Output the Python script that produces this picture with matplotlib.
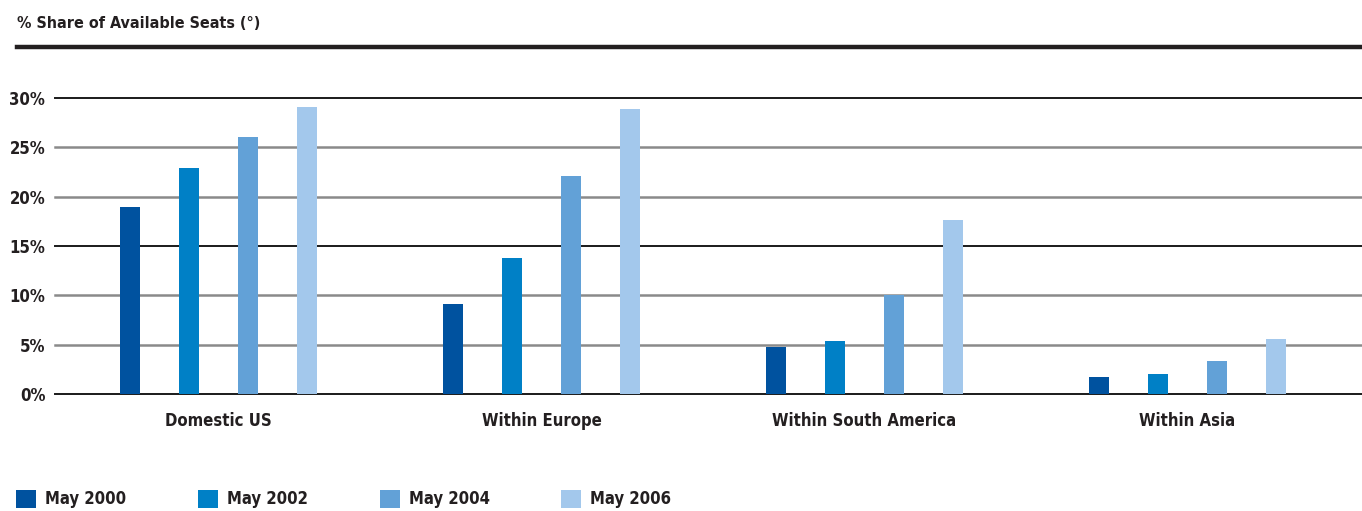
import matplotlib
matplotlib.use('Agg')
import matplotlib.pyplot as plt
from matplotlib.patches import Rectangle
from matplotlib.lines import Line2D

plt.rcParams['font.family'] = ['DejaVu Sans']
plt.rcParams['font.stretch'] = 'condensed'
plt.rcParams['font.weight'] = 'bold'

# data
categories = ['Domestic US', 'Within Europe', 'Within South America', 'Within Asia']
series_labels = ['May 2000', 'May 2002', 'May 2004', 'May 2006']
may2000 = [19.0, 9.1, 4.8, 1.7]
may2002 = [22.9, 13.8, 5.4, 2.0]
may2004 = [26.0, 22.1, 10.0, 3.3]
may2006 = [29.1, 28.9, 17.6, 5.6]
yticks = [0, 5, 10, 15, 20, 25, 30]
ytick_labels = ['0%', '5%', '10%', '15%', '20%', '25%', '30%']

colors = ['#00529F', '#0080C6', '#62A1D7', '#A3C8EC']
series = [may2000, may2002, may2004, may2006]
txt = '#231f20'

W, H = 1362, 511
fig = plt.figure(figsize=(W / 100, H / 100), dpi=100)

# axes placed in pixel terms
ax_left, ax_right, ax_top, ax_bottom = 55, 1362, 98, 394
ax = fig.add_axes([ax_left / W, 1 - ax_bottom / H, (ax_right - ax_left) / W, (ax_bottom - ax_top) / H])

group_w = 323.0
bar_w = 20 / group_w
step = 59 / group_w
for i, (vals, c) in enumerate(zip(series, colors)):
    xs = [g + (i - 1.5) * step for g in range(len(categories))]
    ax.bar(xs, vals, width=bar_w, color=c, zorder=3, linewidth=0)

ax.set_ylim(0, 30)
ax.set_xlim((ax_left - 218.5) / group_w, (ax_right - 218.5) / group_w)

# horizontal rules: 0/15/30 dark, the rest grey
for y in yticks:
    if y % 15 == 0:
        ax.axhline(y, color='#1a1a1a', lw=1.4, zorder=2, clip_on=False)
    else:
        ax.axhline(y, color='#8a8a8a', lw=1.8, zorder=2, clip_on=False)

for s in ax.spines.values():
    s.set_visible(False)
ax.set_yticks(yticks)
ax.set_yticklabels(ytick_labels, fontsize=12, color=txt)
ax.tick_params(axis='y', length=0, pad=7)
ax.set_xticks(range(len(categories)))
ax.set_xticklabels(categories, fontsize=12, color=txt)
ax.tick_params(axis='x', length=0, pad=13)

# title and thick rule
fig.text(17 / W, 1 - 23 / H, '% Share of Available Seats (°)', fontsize=11.5,
         color=txt, va='center', ha='left')
fig.add_artist(Line2D([17 / W, 1], [1 - 47 / H, 1 - 47 / H], color=txt, lw=3.2))

# legend
leg_x = [16, 198, 380, 561]
for x0, lab, c in zip(leg_x, series_labels, colors):
    fig.add_artist(Rectangle((x0 / W, 1 - 508 / H), 20 / W, 18 / H, color=c, lw=0))
    fig.text((x0 + 29) / W, 1 - 499 / H, lab, fontsize=12,
             color=txt, va='center', ha='left')

fig.savefig('out.png', dpi=100)
